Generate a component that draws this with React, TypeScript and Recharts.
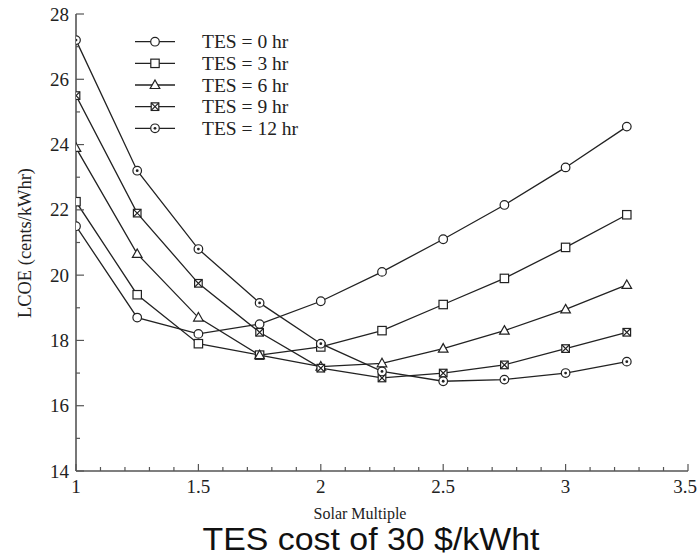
import React from "react";
import { LineChart, Line, XAxis, YAxis, Legend } from "recharts";

// LCOE vs solar multiple, one curve per storage size
const solarMultiple = [1, 1.25, 1.5, 1.75, 2, 2.25, 2.5, 2.75, 3, 3.25];
const tes0 = [21.5, 18.7, 18.2, 18.5, 19.2, 20.1, 21.1, 22.15, 23.3, 24.55];
const tes3 = [22.25, 19.4, 17.9, 17.55, 17.8, 18.3, 19.1, 19.9, 20.85, 21.85];
const tes6 = [23.9, 20.65, 18.7, 17.55, 17.2, 17.3, 17.75, 18.3, 18.95, 19.7];
const tes9 = [25.5, 21.9, 19.75, 18.25, 17.15, 16.85, 17.0, 17.25, 17.75, 18.25];
const tes12 = [27.2, 23.2, 20.8, 19.15, 17.9, 17.05, 16.75, 16.8, 17.0, 17.35];

const seriesNames = ["TES = 0 hr", "TES = 3 hr", "TES = 6 hr", "TES = 9 hr", "TES = 12 hr"];
const seriesKeys = ["tes0", "tes3", "tes6", "tes9", "tes12"];
const markerTypes = ["circle", "square", "triangle", "xbox", "dotcircle"];
const seriesValues = [tes0, tes3, tes6, tes9, tes12];

const xTicks: number[] = [];
for (let i = 10; i <= 35; i++) xTicks.push(i / 10);
const yTicks: number[] = [];
for (let v = 14; v <= 28; v++) yTicks.push(v);

const data = solarMultiple.map((x, i) => {
  const row: any = { x };
  seriesKeys.forEach((k, j) => (row[k] = seriesValues[j][i]));
  return row;
});

const INK = "#222";
const FRAME = "#555";
const SERIF = "'Liberation Serif', 'Times New Roman', serif";

function Marker({ type, cx, cy }: { type: string; cx: number; cy: number }) {
  const s = { fill: "#fff", stroke: INK, strokeWidth: 1.2 };
  if (type === "circle") return <circle cx={cx} cy={cy} r={4.3} {...s} />;
  if (type === "square") return <rect x={cx - 4.2} y={cy - 4.2} width={8.4} height={8.4} {...s} />;
  if (type === "triangle")
    return <polygon points={`${cx},${cy - 5} ${cx + 4.8},${cy + 3.5} ${cx - 4.8},${cy + 3.5}`} {...s} />;
  if (type === "xbox")
    return (
      <g>
        <rect x={cx - 3.8} y={cy - 3.8} width={7.6} height={7.6} {...s} />
        <path
          d={`M${cx - 3.8},${cy - 3.8}L${cx + 3.8},${cy + 3.8}M${cx + 3.8},${cy - 3.8}L${cx - 3.8},${cy + 3.8}`}
          stroke={INK}
          strokeWidth={1.2}
        />
      </g>
    );
  return (
    <g>
      <circle cx={cx} cy={cy} r={4.3} {...s} />
      <circle cx={cx} cy={cy} r={1.4} fill={INK} />
    </g>
  );
}

const isHalf = (v: number) => Math.abs(v * 2 - Math.round(v * 2)) < 1e-6;
const isEven = (v: number) => Math.abs(v / 2 - Math.round(v / 2)) < 1e-6;

const BottomTick = (p: any) => {
  const v = p.payload.value;
  const major = isHalf(v);
  const last = v >= 3.5 - 1e-6;
  return (
    <g>
      <line x1={p.x} x2={p.x} y1={p.y} y2={p.y - (major ? 7 : 4)} stroke={FRAME} strokeWidth={1.2} />
      {major && (
        <text
          x={last ? p.x + 9 : p.x}
          y={p.y + 22}
          textAnchor={last ? "end" : "middle"}
          fontFamily={SERIF}
          fontSize={19}
          fill={INK}
        >
          {String(v)}
        </text>
      )}
    </g>
  );
};

const TopTick = (p: any) => {
  const major = isHalf(p.payload.value);
  return <line x1={p.x} x2={p.x} y1={p.y} y2={p.y + (major ? 7 : 4)} stroke={FRAME} strokeWidth={1.2} />;
};

const LeftTick = (p: any) => {
  const v = p.payload.value;
  const major = isEven(v);
  return (
    <g>
      <line x1={p.x} x2={p.x + (major ? 8 : 4)} y1={p.y} y2={p.y} stroke={FRAME} strokeWidth={1.2} />
      {major && (
        <text x={p.x - 7} y={p.y + 6.5} textAnchor="end" fontFamily={SERIF} fontSize={19} fill={INK}>
          {String(v)}
        </text>
      )}
    </g>
  );
};

const RightTick = (p: any) => {
  const major = isEven(p.payload.value);
  return <line x1={p.x} x2={p.x - (major ? 8 : 4)} y1={p.y} y2={p.y} stroke={FRAME} strokeWidth={1.2} />;
};

const renderLegend = () => (
  <svg width={200} height={112}>
    {seriesNames.map((name, i) => {
      const cy = 11.7 + i * 21.65;
      return (
        <g key={name}>
          <line x1={7} x2={47} y1={cy} y2={cy} stroke={INK} strokeWidth={1.3} />
          <Marker type={markerTypes[i]} cx={27} cy={cy} />
          <text x={74} y={cy + 6.5} fontFamily={SERIF} fontSize={19.5} fill={INK}>
            {name}
          </text>
        </g>
      );
    })}
  </svg>
);

export default function App() {
  return (
    <div style={{ position: "absolute", left: 0, top: 0, width: 697, height: 558, background: "#fff" }}>
      <LineChart width={697} height={558} data={data} margin={{ top: 14, right: 9, bottom: 0, left: 0 }}>
        <XAxis
          xAxisId="b"
          dataKey="x"
          type="number"
          domain={[1, 3.5]}
          ticks={xTicks}
          interval={0}
          height={87}
          tickSize={0}
          tickMargin={0}
          tick={BottomTick}
          axisLine={{ stroke: FRAME, strokeWidth: 1.6 }}
          allowDataOverflow
        />
        <XAxis
          xAxisId="t"
          orientation="top"
          dataKey="x"
          type="number"
          domain={[1, 3.5]}
          ticks={xTicks}
          interval={0}
          height={0}
          tickSize={0}
          tickMargin={0}
          tick={TopTick}
          axisLine={{ stroke: FRAME, strokeWidth: 1.6 }}
          allowDataOverflow
        />
        <YAxis
          yAxisId="l"
          type="number"
          domain={[14, 28]}
          ticks={yTicks}
          interval={0}
          width={76}
          tickSize={0}
          tickMargin={0}
          tick={LeftTick}
          axisLine={{ stroke: FRAME, strokeWidth: 1.6 }}
          allowDataOverflow
        />
        <YAxis
          yAxisId="r"
          orientation="right"
          type="number"
          domain={[14, 28]}
          ticks={yTicks}
          interval={0}
          width={0}
          tickSize={0}
          tickMargin={0}
          tick={RightTick}
          axisLine={{ stroke: FRAME, strokeWidth: 1.6 }}
          allowDataOverflow
        />
        <Legend
          layout="vertical"
          align="center"
          verticalAlign="middle"
          wrapperStyle={{ left: 128, top: 30, width: 200, height: 112 }}
          content={renderLegend}
        />
        {seriesKeys.map((k, i) => (
          <Line
            key={k}
            xAxisId="b"
            yAxisId="l"
            dataKey={k}
            name={seriesNames[i]}
            type="linear"
            stroke={INK}
            strokeWidth={1.3}
            isAnimationActive={false}
            dot={(p: any) => <Marker key={`${k}-${p.index}`} type={markerTypes[i]} cx={p.cx} cy={p.cy} />}
          />
        ))}
      </LineChart>
      <svg
        width={697}
        height={558}
        style={{ position: "absolute", left: 0, top: 0, pointerEvents: "none" }}
      >
        <text
          transform="translate(31,243) rotate(-90)"
          textAnchor="middle"
          fontFamily={SERIF}
          fontSize={18}
          textLength={150}
          lengthAdjust="spacingAndGlyphs"
          fill={INK}
        >
          LCOE (cents/kWhr)
        </text>
        <text x={360} y={519} textAnchor="middle" fontFamily={SERIF} fontSize={16} fill={INK}>
          Solar Multiple
        </text>
        <text
          x={371}
          y={550}
          textAnchor="middle"
          fontFamily="'Liberation Sans', Arial, sans-serif"
          fontSize={32}
          textLength={337}
          lengthAdjust="spacingAndGlyphs"
          fill="#111"
        >
          TES cost of 30 $/kWht
        </text>
      </svg>
    </div>
  );
}
